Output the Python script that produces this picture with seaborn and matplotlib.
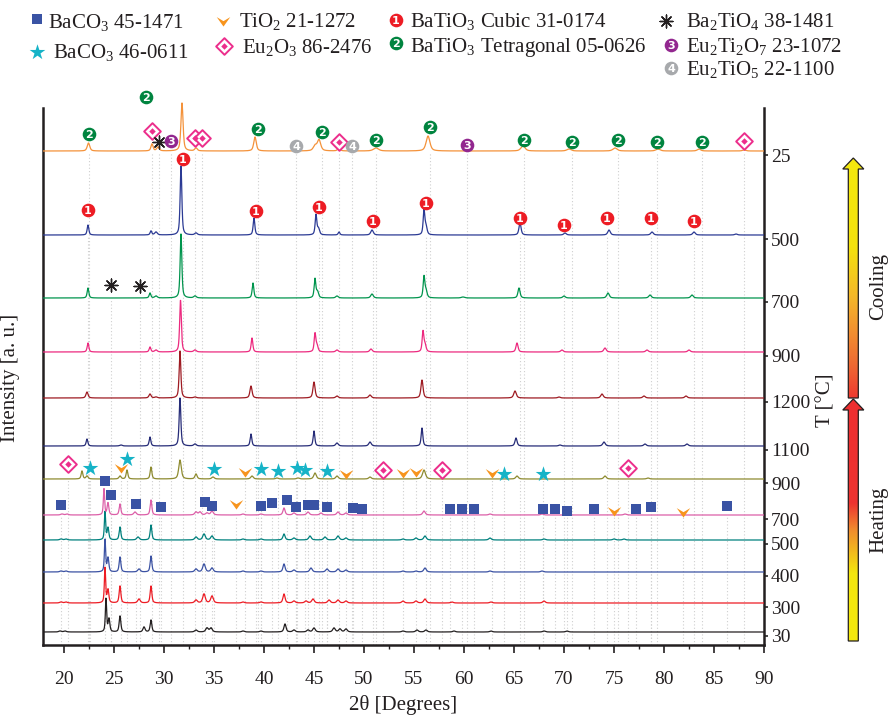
import numpy as np
import matplotlib
matplotlib.use("Agg")
import matplotlib.pyplot as plt
import seaborn as sns
from matplotlib.path import Path
from matplotlib.patches import Polygon
from matplotlib.colors import LinearSegmentedColormap
from matplotlib.ticker import MultipleLocator

# ---------------- data ----------------
temp_labels = ['30', '300', '400', '500', '700', '900', '1100', '1200', '900', '700', '500', '25']
curve_colors = ['#231F20', '#ED1C24', '#3B52A3', '#00807D', '#DC5FA8', '#8E8B30',
                '#262C78', '#9E1B22', '#EC2A7F', '#00944D', '#2B3A94', '#F4923A']
offsets = [13, 42, 73, 105, 130, 166, 199, 247, 293, 347, 410, 494]

# peaks: (2theta, height, fwhm)
peaks_30h = [(19.6, 1, .3), (20.1, 1, .3), (24.2, 33, .15), (24.5, 13, .2), (25.6, 16, .2), (28.0, 5, .25),
             (28.7, 12, .2), (33.2, 2, .3), (34.3, 4, .3), (34.7, 4, .3), (37.9, 1, .3), (39.7, 1, .3),
             (42.1, 8, .25), (43.0, 2, .3), (44.4, 2, .3), (45.0, 4, .3), (47.0, 4, .3), (47.6, 3, .3),
             (48.2, 3, .3), (53.9, 1, .3), (55.3, 2, .3), (56.2, 2, .3), (59.0, 1, .3), (62.7, 1, .3),
             (68.0, 1, .3), (70.3, 1, .3)]
peaks_300h = [(19.7, 1, .3), (20.2, 1, .3), (24.1, 35, .15), (24.4, 13, .2), (25.6, 17, .2), (27.5, 4, .3),
              (28.7, 17, .2), (33.2, 3, .3), (34.0, 9, .3), (34.8, 7, .3), (37.9, 1, .3), (39.7, 1, .3),
              (42.0, 9, .25), (43.0, 2, .3), (44.2, 2, .3), (44.9, 4, .3), (46.5, 3, .3), (47.4, 3, .3),
              (48.2, 2, .3), (53.9, 2, .3), (55.2, 2, .3), (56.1, 4, .3), (58.8, 1, .3), (62.7, 1, .3),
              (68.0, 2, .3)]
peaks_400h = [(19.7, 1, .3), (20.2, 1, .3), (24.1, 32, .15), (24.4, 14, .2), (25.6, 15, .2), (27.5, 3, .3),
              (28.7, 16, .2), (33.2, 3, .3), (34.0, 8, .3), (34.8, 4, .3), (37.9, 1, .3), (39.7, 1, .3),
              (42.0, 8, .25), (43.0, 2, .3), (44.7, 4, .3), (46.3, 3, .3), (47.4, 3, .3), (48.2, 2, .3),
              (53.9, 1, .3), (55.2, 1, .3), (56.1, 4, .3), (62.6, 1, .3), (67.8, 1, .3)]
peaks_500h = [(19.7, 1, .3), (20.2, 1, .3), (24.1, 28, .15), (24.4, 12, .2), (25.6, 13, .2), (27.4, 3, .3),
              (28.7, 15, .2), (33.2, 3, .3), (34.0, 6, .3), (34.8, 4, .3), (37.9, 1, .3), (39.7, 1, .3),
              (42.0, 6, .25), (43.0, 2, .3), (44.6, 4, .3), (46.1, 3, .3), (47.4, 4, .3), (48.2, 2, .3),
              (53.9, 1, .3), (55.2, 2, .3), (56.1, 4, .3), (62.6, 2, .3), (68.0, 1, .3), (75.0, 1, .3),
              (76.0, 1, .3)]
peaks_700h = [(19.8, 1, .3), (20.3, 1, .3), (24.0, 26, .15), (24.4, 12, .2), (25.6, 11, .2), (27.1, 3, .3),
              (28.7, 15, .2), (33.2, 3, .3), (33.6, 3, .3), (34.3, 2, .3), (34.8, 4, .3), (37.9, 1, .3),
              (39.7, 1, .3), (42.0, 7, .25), (43.0, 2, .3), (44.4, 3, .3), (45.7, 2, .3), (47.4, 3, .3),
              (48.2, 2, .3), (56.0, 4, .3), (62.6, 1, .3), (67.8, 1, .3), (76.1, 1, .3)]
peaks_900h = [(21.8, 8, .2), (22.3, 3, .25), (25.6, 3, .25), (26.3, 9, .2), (28.7, 12, .2), (31.6, 19, .3),
              (33.2, 5, .25), (34.9, 2, .3), (38.8, 3, .3), (41.3, 1, .3), (43.4, 1, .3), (45.1, 6, .3),
              (47.3, 3, .3), (50.6, 2, .3), (56.0, 9, .35), (65.3, 3, .3), (74.1, 3, .3), (78.4, 1, .3)]
peaks_1100h = [(22.3, 7, .2), (25.7, 1, .3), (28.6, 9, .2), (31.6, 48, .2), (33.1, 2, .3), (38.7, 12, .2),
               (45.0, 15, .2), (47.3, 3, .3), (50.6, 4, .3), (55.8, 18, .2), (65.2, 8, .25), (69.6, 1, .3),
               (74.0, 4, .3), (78.1, 2, .3), (82.3, 2, .3)]
peaks_1200 = [(22.3, 6, .25), (28.6, 4, .25), (29.2, 1, .3), (31.6, 47, .2), (33.1, 1, .3), (38.7, 12, .25),
              (45.0, 16, .25), (47.3, 2, .3), (50.6, 3, .3), (55.8, 18, .25), (65.1, 7, .3), (69.5, 1, .3),
              (73.8, 4, .3), (78.0, 2, .3), (82.2, 2, .3)]
peaks_900c = [(22.4, 9, .2), (28.6, 5, .2), (29.2, 2, .3), (31.65, 52, .2), (33.1, 2, .3), (38.8, 14, .2),
              (45.1, 18, .2), (45.3, 6, .25), (47.3, 2, .3), (50.7, 3, .3), (55.9, 20, .2), (56.1, 7, .25),
              (65.3, 9, .25), (69.8, 2, .3), (74.1, 4, .3), (78.3, 2, .3), (82.5, 2, .3)]
peaks_700c = [(22.4, 10, .2), (28.6, 5, .2), (29.2, 2, .3), (31.7, 64, .2), (33.1, 2, .3), (38.9, 15, .2),
              (45.1, 19, .2), (45.35, 6, .25), (47.3, 2, .3), (50.8, 4, .3), (56.0, 21, .2), (56.2, 7, .25),
              (59.9, 1, .4), (65.5, 10, .25), (70.0, 2, .3), (74.4, 5, .3), (78.6, 3, .3), (82.8, 3, .3)]
peaks_500c = [(22.4, 10, .2), (28.7, 4, .2), (29.2, 3, .3), (31.7, 69, .2), (33.2, 2, .3), (39.0, 17, .2),
              (45.2, 20, .2), (45.45, 6, .25), (47.5, 3, .2), (50.8, 5, .3), (56.0, 24, .2), (56.2, 8, .25),
              (65.6, 12, .25), (70.1, 2, .3), (74.5, 5, .3), (78.8, 3, .3), (83.0, 3, .3), (87.2, 1, .3)]
peaks_25c = [(22.45, 8, .3), (28.8, 7, .25), (29.4, 4, .3), (31.8, 48, .25), (33.2, 3, .3), (39.1, 14, .3),
             (45.1, 5, .4), (45.5, 11, .4), (47.5, 3, .3), (51.2, 3, .6), (56.4, 15, .45), (65.9, 5, .5),
             (70.5, 2, .5), (75.1, 3, .5), (79.4, 2, .5), (83.5, 2, .4), (88.0, 1, .4)]
all_peaks = [peaks_30h, peaks_300h, peaks_400h, peaks_500h, peaks_700h, peaks_900h,
             peaks_1100h, peaks_1200, peaks_900c, peaks_700c, peaks_500c, peaks_25c]

# phase annotations: (phase code, 2theta, height above the pattern baseline)
ann_25c = [('2', 22.5, 17), ('eu', 28.8, 20), ('ast', 29.5, 9), ('3', 30.7, 10), ('eu', 33.1, 13),
           ('eu', 33.8, 13), ('2', 39.4, 22), ('4', 43.2, 5), ('2', 45.8, 19), ('eu', 47.5, 9),
           ('4', 48.8, 5), ('2', 51.2, 11), ('2', 56.6, 24), ('3', 60.3, 6), ('2', 66.0, 11),
           ('2', 70.8, 9), ('2', 75.4, 11), ('2', 79.3, 9), ('2', 83.8, 9), ('eu', 88.0, 10)]
ann_25c_main = ('2', 28.2, 54)
ann_500c = [('1', 22.4, 25), ('1', 31.9, 76), ('1', 39.2, 24), ('1', 45.5, 28), ('1', 50.9, 14),
            ('1', 56.2, 32), ('1', 65.6, 17), ('1', 70.0, 10), ('1', 74.3, 17), ('1', 78.7, 17),
            ('1', 83.0, 14)]
ann_700c = [('ast', 24.7, 13), ('ast', 27.6, 12)]
ann_900h = [('eu', 20.4, 15), ('st', 22.6, 11), ('tv', 25.7, 11), ('st', 26.3, 20), ('st', 35.0, 10),
            ('tv', 38.1, 7), ('st', 39.7, 10), ('st', 41.4, 8), ('st', 43.3, 11), ('st', 44.1, 9),
            ('st', 46.3, 8), ('tv', 48.2, 5), ('eu', 51.9, 9), ('tv', 53.9, 6), ('tv', 55.2, 7),
            ('eu', 57.8, 9), ('tv', 62.8, 6), ('st', 64.0, 5), ('st', 67.9, 5), ('eu', 76.4, 11)]
ann_700h = [('sq', 19.7, 10), ('sq', 24.1, 34), ('sq', 24.7, 20), ('sq', 27.2, 11), ('sq', 29.7, 8),
            ('sq', 34.1, 13), ('sq', 34.8, 9), ('tv', 37.2, 11), ('sq', 39.7, 9), ('sq', 40.8, 12),
            ('sq', 42.3, 15), ('sq', 43.2, 8), ('sq', 44.4, 10), ('sq', 45.0, 10), ('sq', 46.3, 8),
            ('sq', 48.9, 7), ('sq', 49.8, 6), ('sq', 58.6, 6), ('sq', 59.8, 6), ('sq', 61.0, 6),
            ('sq', 67.9, 6), ('sq', 69.1, 6), ('sq', 70.3, 4), ('sq', 73.0, 6), ('tv', 75.0, 4),
            ('sq', 77.2, 6), ('sq', 78.7, 8), ('tv', 81.9, 3), ('sq', 86.3, 9)]
ann_sets = [(ann_25c, 11), (ann_500c, 10), (ann_700c, 9), (ann_900h, 5), (ann_700h, 4)]

legend_codes = ['sq', 'st', 'tv', 'eu', '1', '2', 'ast', '3', '4']
legend_labels = [r'BaCO$_3$ 45-1471', r'BaCO$_3$ 46-0611', r'TiO$_2$ 21-1272', r'Eu$_2$O$_3$ 86-2476',
                 r'BaTiO$_3$ Cubic 31-0174', r'BaTiO$_3$ Tetragonal 05-0626', r'Ba$_2$TiO$_4$ 38-1481',
                 r'Eu$_2$Ti$_2$O$_7$ 23-1072', r'Eu$_2$TiO$_5$ 22-1100']

# ---------------- style ----------------
sns.set_theme(style='white')
plt.rcParams['font.family'] = ['Liberation Serif', 'DejaVu Serif']
plt.rcParams['mathtext.fontset'] = 'custom'
plt.rcParams['mathtext.rm'] = 'Liberation Serif'
plt.rcParams['mathtext.it'] = 'Liberation Serif:italic'
plt.rcParams['mathtext.bf'] = 'Liberation Serif:bold'
TXT = '#231F20'

phase_colors = {'sq': '#3A53A4', 'st': '#16B3C7', 'tv': '#F7941D', 'eu': '#EC2E8C',
                '1': '#ED1C24', '2': '#00843F', 'ast': '#231F20', '3': '#92278F', '4': '#A7A9AC'}
chevron = Path([(-1, 0.65), (0, -0.75), (1, 0.65), (0, 0.05), (-1, 0.65)],
               [Path.MOVETO, Path.LINETO, Path.LINETO, Path.LINETO, Path.CLOSEPOLY])


def draw_marker(ax, code, x, y):
    c = phase_colors[code]
    if code == 'sq':
        ax.scatter([x], [y], marker='s', s=46, color=c, linewidths=0, zorder=6)
    elif code == 'st':
        ax.scatter([x], [y], marker='*', s=140, color=c, linewidths=0, zorder=6)
    elif code == 'tv':
        ax.scatter([x], [y], marker=chevron, s=95, color=c, linewidths=0, zorder=6)
    elif code == 'eu':
        ax.scatter([x], [y], marker='D', s=72, facecolors='white', edgecolors=c, linewidths=1.4, zorder=6)
        ax.scatter([x], [y], marker='D', s=11, color=c, linewidths=0, zorder=7)
    elif code == 'ast':
        ax.scatter([x], [y], marker=(8, 2, 0), s=85, color=c, linewidths=1.0, zorder=6)
    else:
        ax.scatter([x], [y], marker='o', s=96, color=c, linewidths=0, zorder=6)
        ax.text(x, y, code, color='white', fontsize=8, fontweight='bold', family='DejaVu Sans',
                ha='center', va='center_baseline', zorder=7)


def profile(x, peaks):
    y = np.zeros_like(x)
    for p, h, w in peaks:
        d = (x - p) / (w / 2)
        y += h * (0.6 / (1 + d * d) + 0.4 * np.exp(-np.log(2) * d * d))
    return y


fig = plt.figure(figsize=(8.92, 7.15), dpi=100)
L, B = 43 / 892, 1 - 645 / 715
ax = fig.add_axes([L, B, 721 / 892, 557 / 715])
ax.set_xlim(17.9, 90)
ax.set_ylim(0, 557)

tt = np.arange(17.9, 90.0001, 0.02)

# dotted guide lines
for anns, idx in ann_sets:
    for code, x, dy in anns:
        ax.plot([x, x], [0, offsets[idx] - 1], color='#CFCFCF', lw=0.8, ls=(0, (1, 2)), zorder=1)

for peaks, off, col in zip(all_peaks, offsets, curve_colors):
    yy = off + profile(tt, peaks)
    sns.lineplot(x=tt, y=yy, color=col, linewidth=0.9, ax=ax, estimator=None, sort=False, zorder=3)

for anns, idx in ann_sets:
    for code, x, dy in anns:
        draw_marker(ax, code, x, offsets[idx] + dy)
draw_marker(ax, ann_25c_main[0], ann_25c_main[1], offsets[11] + ann_25c_main[2])

# axes styling
ax.spines['top'].set_visible(False)
for s in ['left', 'right', 'bottom']:
    ax.spines[s].set_color(TXT)
    ax.spines[s].set_linewidth(1.8)
ax.spines['left'].set_bounds(0, 537)
ax.spines['right'].set_bounds(0, 537)

ax.set_xticks(np.arange(20, 91, 5))
ax.xaxis.set_minor_locator(MultipleLocator(2.5))
ax.tick_params(axis='x', which='major', direction='out', length=6, width=1.2, color=TXT,
               labelsize=14, labelcolor=TXT, pad=13, bottom=True)
ax.tick_params(axis='x', which='minor', direction='out', length=3, width=1.0, color=TXT, bottom=True)

ax.yaxis.tick_right()
ax.set_yticks([o - 4 for o in offsets])
ax.set_yticklabels(temp_labels)
ax.tick_params(axis='y', which='major', direction='out', length=3, width=1.2, labelsize=14,
               labelcolor=TXT, pad=2, right=True, left=False)
for tk, c in zip(ax.yaxis.get_major_ticks(), curve_colors):
    tk.tick2line.set_color(c)

ax.set_xlabel('2θ [Degrees]', fontsize=15, color=TXT, labelpad=5)
ax.set_ylabel('Intensity [a. u.]', fontsize=15, color=TXT)
ax.yaxis.set_label_position('left')
ax.yaxis.set_label_coords(-0.032, 0.48)
ax.grid(False)

# ---------------- overlay (legend + temperature arrows) ----------------
ov = fig.add_axes([0, 0, 1, 1], zorder=5)
ov.set_xlim(0, 892)
ov.set_ylim(715, 0)
ov.axis('off')
ov.patch.set_alpha(0)

leg_marker_xy = [(37, 19), (37, 52), (223, 21), (224, 46), (396, 20), (396, 43), (666, 21), (671, 45), (671, 68)]
leg_text_xy = [(48, 28), (53, 58), (239, 27), (242, 53), (410, 27), (410, 52), (686, 27), (686, 52), (686, 75)]
for code, lab, (mx, my), (tx, ty) in zip(legend_codes, legend_labels, leg_marker_xy, leg_text_xy):
    draw_marker(ov, code, mx, my)
    ov.text(tx, ty, lab, fontsize=15, color=TXT, ha='left', va='baseline')


def arrow_poly(xc, yb, yh, yt, sw=5.0, hw=10.5):
    return [(xc - sw, yb), (xc - sw, yh), (xc - hw, yh), (xc, yt), (xc + hw, yh), (xc + sw, yh), (xc + sw, yb)]


xc = 853.3
cool_cmap = LinearSegmentedColormap.from_list('cool_', [(0, '#F4E90E'), (0.37, '#F4E20E'), (0.58, '#F4B72A'),
                                                       (0.72, '#F29130'), (0.86, '#EE6A33'), (1, '#EE3A30')])
heat_cmap = LinearSegmentedColormap.from_list('heat_', [(0, '#EE2E31'), (0.43, '#EE3330'), (0.54, '#F08B2E'),
                                                       (0.72, '#F4E60E'), (1, '#F4E90E')])
for (yb, yh, yt), cmap in [((398, 169, 158), cool_cmap), ((641, 410, 399), heat_cmap)]:
    poly = Polygon(arrow_poly(xc, yb, yh, yt), closed=True, facecolor='none', edgecolor=TXT, lw=0.9, zorder=4)
    ov.add_patch(poly)
    grad = np.linspace(0, 1, 256).reshape(-1, 1)
    im = ov.imshow(grad, cmap=cmap, aspect='auto', origin='upper',
                   extent=[xc - 11, xc + 11, yb, yt], zorder=3)
    im.set_clip_path(poly)
ov.set_xlim(0, 892)
ov.set_ylim(715, 0)

ov.text(826, 400, 'T [°C]', rotation=90, fontsize=15, color=TXT, ha='center', va='center')
ov.text(879, 287, 'Cooling', rotation=90, fontsize=15, color=TXT, ha='center', va='center')
ov.text(879, 520, 'Heating', rotation=90, fontsize=15, color=TXT, ha='center', va='center')

fig.savefig('out.png', dpi=100, facecolor='white')
